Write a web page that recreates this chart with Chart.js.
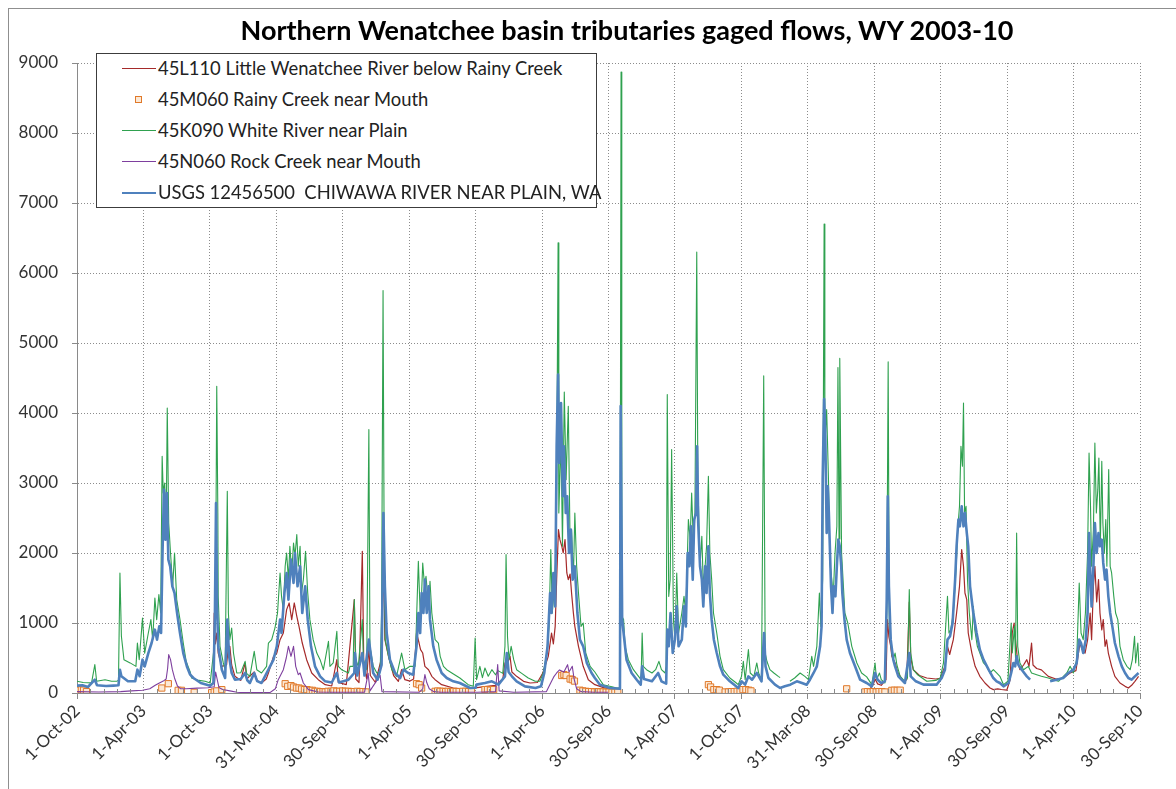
<!DOCTYPE html>
<html>
<head>
<meta charset="utf-8">
<script src="https://cdn.jsdelivr.net/npm/chart.js@4.4.0/dist/chart.umd.min.js"></script>
<style>
  html, body { margin: 0; padding: 0; background: #fff; }
  #wrap { position: relative; width: 1176px; height: 789px; overflow: hidden; font-family: Lato, "Open Sans", sans-serif; }
  #frame { position: absolute; left: 8px; top: 8px; width: 1200px; height: 800px; border: 1px solid #8f8f8f; }
  #flows { position: absolute; left: 0; top: 0; }
  #title { position: absolute; left: 0; width: 1254px; top: 13px; text-align: center; font-weight: bold; font-size: 27px; color: #000; }
  #legend { position: absolute; left: 96px; top: 53px; width: 501px; height: 155px; border: 1px solid #3c3c3c; background: #fff; box-sizing: border-box; }
  .item { position: absolute; left: 0; height: 30px; display: flex; align-items: center; font-size: 18.4px; color: #222; white-space: nowrap; }
  .sw { position: relative; width: 61px; height: 30px; flex: none; }
  .sw .ln { position: absolute; left: 25px; width: 34px; top: 15px; }
  .sw .mk { position: absolute; left: 38px; top: 12px; width: 5px; height: 5px; }
</style>
</head>
<body>
<div id="wrap">
  <div id="frame"></div>
  <canvas id="flows" width="1176" height="789"></canvas>
  <div id="title">Northern Wenatchee basin tributaries gaged flows, WY 2003-10</div>
  <div id="legend"></div>
</div>
<script>
// Daily flows (cfs), sampled as [days since 1-Oct-02, flow]; null marks missing record.
const SPAN_DAYS = 2921; // 1-Oct-02 .. 30-Sep-10

const dateTicks = ['1-Oct-02','1-Apr-03','1-Oct-03','31-Mar-04','30-Sep-04','1-Apr-05','30-Sep-05',
  '1-Apr-06','30-Sep-06','1-Apr-07','1-Oct-07','31-Mar-08','30-Sep-08','1-Apr-09','30-Sep-09',
  '1-Apr-10','30-Sep-10'];

const littleWenatchee = [
  [366,110],[375,150],[377,1143],[380,700],[384,857],[388,571],[398,381],[411,400],[416,667],[420,667],
  [425,400],[434,238],[450,180],[462,429],[466,200],[487,300],[495,180],[507,143],[520,200],[526,286],
  [540,524],[549,571],[558,762],[567,857],[576,1191],[583,1286],[590,1048],[597,1286],[604,1095],[610,952],
  [619,714],[631,476],[645,286],[663,190],[682,119],[700,100],[714,476],[718,150],[740,120],[762,1334],
  [766,200],[775,150],[784,2024],[788,400],[796,200],[802,667],[806,250],[820,150],[837,500],[842,2000],
  [846,762],[856,524],[870,250],[883,167],[892,333],[901,190],[915,170],[925,200],[933,857],[940,714],
  [944,619],[950,571],[956,381],[966,333],[975,238],[984,190],[1002,119],[1034,71],[1060,60],[1090,70],
  [1120,90],[1150,110],[1170,200],[1176,429],[1181,400],[1190,524],[1195,300],[1208,238],[1227,167],[1245,143],
  [1265,150],[1280,286],[1295,524],[1304,857],[1309,700],[1314,952],[1318,1620],[1323,2334],[1327,2191],[1332,2100],
  [1336,2000],[1341,2191],[1346,1715],[1350,1620],[1355,1700],[1359,1429],[1364,1143],[1368,952],[1378,667],[1391,381],
  [1405,190],[1423,119],[1445,80],[1460,60],[1800,null],
  [2160,40],[2175,30],[2188,119],[2193,200],[2200,130],[2210,110],[2223,190],[2227,1048],[2231,800],[2236,667],
  [2239,524],[2248,429],[2255,300],[2262,238],[2271,167],[2280,190],[2287,1300],[2291,500],[2298,333],[2315,250],
  [2335,214],[2360,200],[2372,210],[2385,381],[2392,667],[2398,550],[2408,762],[2417,1143],[2425,1524],[2431,2048],
  [2436,1810],[2440,1429],[2445,1334],[2449,857],[2459,571],[2468,381],[2481,238],[2495,143],[2509,71],[2518,48],
  [2530,60],[2540,50],[2555,40],[2564,190],[2570,857],[2575,1000],[2580,700],[2585,450],[2591,333],[2601,400],
  [2610,476],[2616,380],[2623,714],[2627,400],[2637,350],[2650,330],[2669,238],[2690,200],[2710,214],[2729,286],
  [2745,320],[2756,714],[2762,620],[2770,571],[2777,760],[2784,1143],[2788,762],[2793,1524],[2797,1810],[2802,1300],
  [2807,1620],[2811,1143],[2816,900],[2820,1048],[2825,667],[2829,760],[2834,571],[2843,381],[2852,238],[2866,143],
  [2880,95],[2889,71],[2898,110],[2907,167],[2917,238]
];

const rainyCreek = [
  [5,40],[12,45],[18,40],[26,20],[233,71],[251,133],[278,38],[287,38],[322,10],[370,5],
  [377,15],[384,30],[398,48],[572,133],[579,95],[588,105],[595,86],[603,71],[610,71],[617,57],
  [625,48],[632,48],[640,38],[647,38],[654,24],[661,24],[669,19],[676,19],[682,15],[690,24],
  [698,24],[706,30],[714,24],[722,24],[730,28],[738,24],[746,24],[754,20],[762,20],[770,24],
  [778,20],[786,20],[794,15],[933,133],[940,119],[947,71],[984,24],[991,28],[998,24],[1006,24],
  [1013,20],[1020,24],[1027,20],[1035,24],[1042,20],[1050,20],[1060,24],[1068,24],[1076,20],[1084,24],
  [1121,48],[1128,48],[1136,40],[1145,48],[1332,250],[1338,262],[1344,250],[1355,200],[1361,190],[1367,170],
  [1382,40],[1390,30],[1398,24],[1406,20],[1414,20],[1422,15],[1430,20],[1438,15],[1446,15],[1454,12],
  [1462,12],[1470,10],[1478,10],[1486,12],[1735,119],[1741,86],[1750,48],[1758,48],[1765,40],[1781,15],
  [1790,15],[1798,20],[1806,20],[1814,24],[1822,24],[1830,48],[1838,48],[1846,40],[1852,30],[2115,60],
  [2165,15],[2172,20],[2180,15],[2188,20],[2196,15],[2204,20],[2212,20],[2220,15],[2239,38],[2246,40],
  [2254,38],[2262,40]
];

const whiteRiver = [
  [0,167],[17,150],[40,145],[49,405],[54,167],[77,190],[95,167],[110,170],[114,180],[118,1715],
  [122,810],[129,476],[146,430],[162,380],[166,715],[171,476],[180,1072],[186,570],[196,857],[203,1048],
  [208,762],[214,1357],[219,1048],[225,1405],[230,1143],[234,3382],[237,2858],[241,3000],[245,2334],[248,4072],
  [252,2429],[257,2000],[263,1524],[268,2000],[274,1334],[283,1048],[292,714],[300,450],[311,300],[315,214],
  [335,180],[352,167],[366,143],[377,667],[381,1620],[384,4382],[387,2572],[388,1381],[393,667],[402,429],
  [407,333],[413,2882],[416,1143],[420,762],[425,929],[430,571],[439,286],[450,290],[462,452],[466,280],
  [475,238],[487,595],[494,333],[507,286],[521,381],[526,714],[535,762],[544,929],[551,1143],[558,1715],
  [562,1381],[567,1191],[572,1810],[576,2000],[581,1620],[585,2096],[590,1715],[595,2143],[599,1953],[604,2262],
  [608,1810],[613,2096],[617,1429],[622,1620],[628,2024],[634,1429],[640,1048],[649,762],[659,571],[668,476],
  [677,333],[691,738],[695,381],[704,429],[714,881],[718,381],[727,333],[746,286],[750,381],[759,381],
  [762,1334],[766,476],[773,381],[784,1048],[787,476],[796,333],[802,3763],[805,667],[814,381],[824,286],
  [833,300],[837,1143],[841,5750],[844,2096],[847,762],[856,524],[865,333],[878,238],[892,571],[901,333],
  [915,381],[929,381],[933,1048],[938,1881],[943,1143],[947,1429],[950,1858],[955,1524],[959,1667],[966,1238],
  [970,1596],[975,1143],[984,762],[993,714],[998,524],[1007,381],[1016,333],[1030,286],[1052,214],[1075,119],
  [1089,95],[1094,786],[1098,190],[1107,381],[1114,220],[1121,357],[1130,240],[1140,333],[1150,260],[1157,320],
  [1170,280],[1176,667],[1179,1977],[1183,800],[1187,476],[1193,667],[1200,476],[1208,333],[1222,280],[1240,214],
  [1259,167],[1272,167],[1281,286],[1291,571],[1297,952],[1302,2048],[1306,1143],[1312,1524],[1317,2096],[1322,6430],
  [1324,2572],[1330,3620],[1334,2096],[1339,4300],[1344,3048],[1350,4096],[1355,2096],[1359,2334],[1364,1620],[1368,2572],
  [1373,1810],[1378,1429],[1385,952],[1391,1000],[1398,571],[1410,381],[1423,300],[1437,190],[1446,119],[1470,90],
  [1483,71],[1492,71],[1495,8870],[1497,1095],[1502,1048],[1506,667],[1515,476],[1529,333],[1543,238],[1550,190],
  [1553,857],[1556,381],[1565,333],[1580,286],[1590,333],[1599,452],[1606,333],[1616,286],[1619,381],[1622,4263],
  [1626,1381],[1630,1620],[1634,3477],[1639,1048],[1643,762],[1648,1715],[1653,857],[1662,1143],[1668,1381],[1673,1143],
  [1680,2477],[1685,2191],[1689,2858],[1694,2096],[1698,2572],[1703,6300],[1706,3048],[1712,1810],[1717,2239],[1721,1524],
  [1726,1810],[1730,2096],[1735,3096],[1739,2000],[1744,1620],[1749,1143],[1758,857],[1767,524],[1776,333],[1794,214],
  [1810,150],[1817,119],[1826,238],[1831,452],[1836,190],[1845,619],[1850,286],[1860,238],[1868,429],[1873,286],
  [1881,190],[1887,4530],[1891,571],[1896,450],[1904,333],[1915,286],[1927,238],[1932,220],[1945,null],[1959,167],
  [1972,214],[1987,286],[2000,238],[2010,190],[2019,524],[2024,381],[2033,667],[2040,1429],[2044,952],[2049,1620],
  [2053,6700],[2055,3525],[2060,4048],[2065,3048],[2069,1858],[2074,1620],[2078,1381],[2083,2000],[2088,2381],[2091,4650],
  [2094,2200],[2096,4780],[2101,2000],[2106,1524],[2110,1143],[2118,1000],[2129,667],[2143,429],[2156,286],[2170,230],
  [2184,119],[2193,429],[2197,190],[2205,286],[2210,190],[2220,143],[2225,1143],[2229,4730],[2232,952],[2239,571],
  [2243,476],[2248,571],[2253,400],[2262,238],[2275,167],[2282,214],[2287,1477],[2291,571],[2298,333],[2310,260],
  [2335,167],[2360,180],[2372,214],[2381,429],[2392,1381],[2396,857],[2401,905],[2408,1143],[2416,1810],[2420,2334],
  [2425,2667],[2429,3525],[2433,3239],[2436,4143],[2439,2572],[2443,2667],[2447,1620],[2452,1143],[2459,762],[2463,1238],
  [2467,900],[2474,667],[2481,571],[2491,429],[2500,381],[2509,286],[2518,333],[2527,286],[2536,238],[2546,119],
  [2558,167],[2567,1000],[2570,571],[2576,952],[2579,500],[2582,2286],[2585,667],[2591,429],[2601,333],[2614,381],
  [2623,286],[2637,262],[2650,240],[2669,214],[2683,190],[2697,167],[2706,214],[2720,286],[2729,381],[2738,286],
  [2747,476],[2754,1572],[2759,857],[2765,762],[2771,1143],[2777,2000],[2781,3429],[2785,2667],[2788,1810],[2793,2334],
  [2797,3572],[2801,2572],[2805,2905],[2808,3358],[2812,2096],[2816,3310],[2819,2429],[2823,2000],[2827,2477],[2830,1810],
  [2835,3191],[2839,1810],[2843,1715],[2849,1381],[2854,1143],[2860,1048],[2866,667],[2875,476],[2885,381],[2894,333],
  [2900,476],[2906,810],[2909,429],[2915,714],[2918,381]
];

const rockCreek = [
  [0,20],[60,15],[120,20],[150,30],[180,40],[200,60],[215,110],[225,140],[237,170],[245,200],
  [249,350],[252,548],[257,476],[262,333],[268,215],[276,100],[285,60],[300,60],[330,70],[360,75],
  [377,90],[381,300],[385,200],[390,80],[400,50],[420,30],[440,10],[460,5],[530,5],[545,60],
  [553,190],[567,333],[575,500],[581,667],[588,524],[595,667],[601,381],[608,262],[613,286],[622,143],
  [636,48],[663,14],[700,10],[790,10],[800,280],[805,30],[833,250],[838,20],[940,10],[950,60],
  [956,262],[961,150],[968,60],[980,20],[1000,10],[1100,10],[1150,20],[1156,405],[1160,30],[1200,10],
  [1290,20],[1304,167],[1310,230],[1318,286],[1326,330],[1338,300],[1348,405],[1352,300],[1361,381],[1366,200],
  [1373,60],[1385,20],[1420,10],[1460,10]
];

const chiwawa = [
  [0,105],[15,110],[30,86],[49,190],[55,110],[80,100],[100,105],[114,110],[118,333],[122,240],
  [140,167],[160,167],[166,333],[172,240],[180,476],[186,380],[196,570],[205,714],[214,905],[220,762],
  [226,952],[231,857],[235,2000],[239,2905],[243,2191],[247,2858],[251,1905],[256,1810],[262,1524],[268,1429],
  [275,1143],[283,857],[292,570],[302,380],[311,262],[320,214],[340,143],[366,105],[375,143],[379,1143],
  [382,2715],[385,1238],[388,667],[398,333],[407,214],[413,1048],[418,524],[425,286],[434,190],[450,200],
  [462,286],[468,180],[475,143],[487,286],[495,170],[507,143],[526,333],[540,476],[549,667],[558,1048],
  [562,857],[570,1429],[576,1715],[581,1334],[588,1905],[595,1572],[599,2000],[606,1524],[613,1810],[619,1143],
  [627,1524],[634,1048],[643,667],[654,381],[668,238],[682,167],[700,150],[714,286],[720,150],[746,190],
  [762,286],[764,571],[770,250],[784,571],[790,250],[802,762],[806,600],[814,286],[826,190],[837,400],
  [842,2572],[846,1524],[851,857],[860,476],[874,286],[888,214],[897,333],[910,286],[924,262],[933,667],
  [938,1143],[943,857],[947,1429],[952,1143],[956,1620],[961,1143],[966,1524],[970,1048],[979,667],[988,476],
  [1002,286],[1016,214],[1034,167],[1052,143],[1080,71],[1095,75],[1098,120],[1121,143],[1140,167],[1158,119],
  [1176,238],[1181,571],[1186,300],[1195,238],[1208,167],[1231,95],[1260,71],[1275,95],[1284,286],[1293,667],
  [1300,1429],[1304,1143],[1309,1715],[1314,1238],[1318,3525],[1322,4550],[1325,3286],[1330,4143],[1335,2810],[1338,3525],
  [1343,2572],[1347,2810],[1352,2000],[1357,2334],[1362,1620],[1368,1810],[1375,1143],[1382,762],[1391,667],[1401,429],
  [1414,286],[1423,214],[1437,119],[1464,71],[1492,60],[1494,4100],[1498,1048],[1502,857],[1510,476],[1524,286],
  [1538,190],[1549,119],[1553,381],[1558,200],[1580,167],[1597,286],[1606,167],[1619,133],[1622,905],[1626,667],
  [1631,1143],[1637,571],[1643,762],[1648,1238],[1653,667],[1662,762],[1668,1238],[1673,952],[1678,2000],[1683,1810],
  [1687,2381],[1692,1620],[1696,2477],[1701,2572],[1704,3525],[1707,2429],[1712,1810],[1717,1620],[1721,1238],[1726,1810],
  [1730,1429],[1735,2096],[1739,1429],[1744,1048],[1750,762],[1758,571],[1767,381],[1776,262],[1794,167],[1817,71],
  [1826,167],[1836,120],[1845,238],[1855,190],[1868,286],[1881,167],[1888,857],[1892,381],[1900,214],[1918,119],
  [1932,71],[1945,95],[1960,119],[1978,167],[1992,143],[2005,119],[2014,190],[2024,286],[2033,381],[2042,667],
  [2046,952],[2049,3048],[2053,4200],[2056,3763],[2060,2286],[2063,2953],[2066,2572],[2072,1524],[2076,1143],[2079,1524],
  [2084,1381],[2088,1810],[2092,2191],[2096,2096],[2100,1810],[2103,1429],[2109,1048],[2115,762],[2124,571],[2138,381],
  [2152,190],[2170,143],[2184,95],[2193,286],[2200,190],[2210,143],[2220,167],[2225,1334],[2228,2810],[2231,1524],
  [2236,762],[2243,476],[2248,381],[2257,238],[2275,143],[2287,571],[2291,238],[2305,167],[2326,119],[2362,119],
  [2376,214],[2385,333],[2392,762],[2399,810],[2406,1000],[2413,1620],[2417,2096],[2422,2477],[2426,2381],[2431,2667],
  [2436,2381],[2440,2572],[2445,2286],[2449,2096],[2454,1524],[2463,1143],[2472,857],[2481,619],[2491,476],[2505,333],
  [2518,214],[2527,167],[2536,143],[2546,95],[2560,143],[2567,286],[2573,429],[2578,381],[2582,524],[2587,400],
  [2596,333],[2610,238],[2619,190],[2640,null],[2674,167],[2692,190],[2710,214],[2724,286],[2738,333],[2747,429],
  [2754,762],[2759,714],[2765,571],[2772,762],[2777,1143],[2781,2286],[2785,1620],[2788,1238],[2793,1810],[2797,2429],
  [2802,2000],[2807,2286],[2811,2096],[2816,2191],[2820,1858],[2825,1620],[2829,1762],[2834,1381],[2839,1143],[2845,952],
  [2852,714],[2862,524],[2871,381],[2880,286],[2889,214],[2898,190],[2907,238],[2917,286]
];

const toXY = rows => rows.map(([d, q]) => ({ x: d, y: q }));

const series = [
  { label: '45L110 Little Wenatchee River below Rainy Creek', rows: littleWenatchee, color: '#A52A2A', width: 1.2, order: 4 },
  { label: '45M060 Rainy Creek near Mouth', rows: rainyCreek, color: '#E0792A', marker: true, order: 3 },
  { label: '45K090 White River near Plain', rows: whiteRiver, color: '#2FA14F', width: 1.1, order: 2 },
  { label: '45N060 Rock Creek near Mouth', rows: rockCreek, color: '#7E3F9E', width: 1.1, order: 1 },
  { label: 'USGS 12456500  CHIWAWA RIVER NEAR PLAIN, WA', rows: chiwawa, color: '#4F81BD', width: 2.6, order: 0 }
];

const datasets = series.map(s => s.marker ? {
  label: s.label, data: toXY(s.rows), showLine: false, order: s.order,
  pointStyle: 'rect', pointRadius: 4.4, pointHoverRadius: 4.4, pointBorderWidth: 1,
  borderColor: s.color, backgroundColor: '#FCE9D6'
} : {
  label: s.label, data: toXY(s.rows), order: s.order, spanGaps: false,
  borderColor: s.color, borderWidth: s.width, pointRadius: 0, tension: 0,
  borderJoinStyle: 'round', fill: false
});

// small inside ticks between the dated gridlines
const minorTicks = {
  id: 'minorTicks',
  afterDatasetsDraw(chart) {
    const sx = chart.scales.x, yb = chart.chartArea.bottom, ctx = chart.ctx;
    const step = (sx.max - sx.min) / (dateTicks.length - 1) / 5;
    ctx.save();
    ctx.strokeStyle = '#8a8a8a';
    ctx.lineWidth = 1;
    for (let i = 1; i < (dateTicks.length - 1) * 5; i++) {
      if (i % 5 === 0) continue;
      const px = Math.round(sx.getPixelForValue(sx.min + i * step)) + 0.5;
      ctx.beginPath(); ctx.moveTo(px, yb - 4); ctx.lineTo(px, yb); ctx.stroke();
    }
    ctx.restore();
  }
};

const tickFont = { family: 'Lato, "Open Sans", sans-serif', size: 17 };
const gridStyle = { color: '#8c8c8c', lineWidth: 1, drawTicks: true, tickColor: '#8a8a8a', tickBorderDash: [] };
const borderStyle = { display: true, color: '#8a8a8a', width: 1, dash: [1, 2] };

new Chart(document.getElementById('flows'), {
  type: 'line',
  data: { datasets },
  plugins: [minorTicks],
  options: {
    responsive: false,
    animation: false,
    layout: { padding: { left: 0, top: 63, right: 36, bottom: 0 } },
    plugins: { legend: { display: false }, tooltip: { enabled: false }, title: { display: false } },
    scales: {
      x: {
        type: 'linear', min: 0, max: SPAN_DAYS,
        afterBuildTicks: sc => { sc.ticks = dateTicks.map((_, i) => ({ value: i * SPAN_DAYS / (dateTicks.length - 1) })); },
        afterFit: sc => { sc.height = 96; },
        ticks: {
          autoSkip: false, maxRotation: 45, minRotation: 45, padding: 2,
          font: tickFont, color: '#333',
          callback: (v, i) => dateTicks[i]
        },
        grid: Object.assign({ tickLength: 6 }, gridStyle),
        border: borderStyle
      },
      y: {
        min: 0, max: 9000,
        afterFit: sc => { sc.width = 77; },
        ticks: { stepSize: 1000, padding: 14, font: tickFont, color: '#333', callback: v => String(v) },
        grid: Object.assign({ tickLength: 5 }, gridStyle),
        border: borderStyle
      }
    }
  }
});

// legend box drawn from the same series list
const legend = document.getElementById('legend');
series.forEach((s, i) => {
  const item = document.createElement('div');
  item.className = 'item';
  item.style.top = (-1 + i * 31) + 'px';
  const sw = document.createElement('div');
  sw.className = 'sw';
  const mark = document.createElement('div');
  if (s.marker) {
    mark.className = 'mk';
    mark.style.border = '1px solid ' + s.color;
    mark.style.background = '#FCE9D6';
  } else {
    mark.className = 'ln';
    mark.style.borderTop = (s.width > 2 ? 2 : 1) + 'px solid ' + s.color;
  }
  sw.appendChild(mark);
  const txt = document.createElement('span');
  txt.textContent = s.label;
  txt.style.whiteSpace = 'pre';
  item.appendChild(sw);
  item.appendChild(txt);
  legend.appendChild(item);
});
</script>
</body>
</html>
